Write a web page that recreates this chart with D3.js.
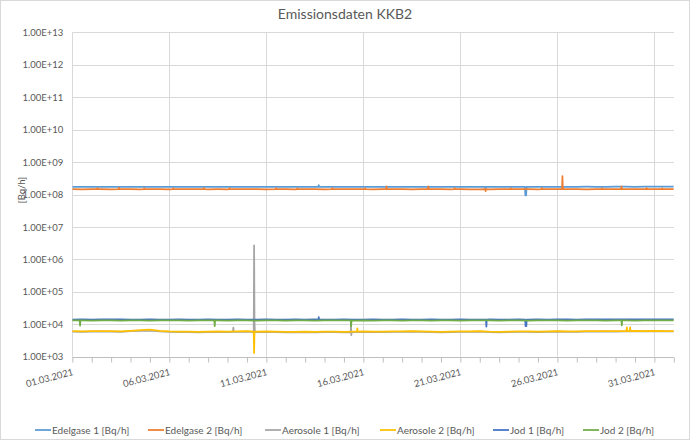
<!DOCTYPE html>
<html>
<head>
<meta charset="utf-8">
<script src="https://cdn.jsdelivr.net/npm/d3@7/dist/d3.min.js"></script>
<style>
  html, body { margin: 0; padding: 0; background: #fff; }
  svg { display: block; font-family: Lato, "Open Sans", sans-serif; }
</style>
</head>
<body>
<svg id="chart" width="690" height="440"></svg>
<script>
// ---------------- DATA ----------------
const title = "Emissionsdaten KKB2";
const yAxisTitle = "[Bq/h]";
const seriesNames = ["Edelgase 1 [Bq/h]", "Edelgase 2 [Bq/h]", "Aerosole 1 [Bq/h]", "Aerosole 2 [Bq/h]", "Jod 1 [Bq/h]", "Jod 2 [Bq/h]"];
const seriesColors = ["#5B9BD5", "#ED7D31", "#A5A5A5", "#FFC000", "#4472C4", "#70AD47"];
const xTickLabels = ["01.03.2021", "06.03.2021", "11.03.2021", "16.03.2021", "21.03.2021", "26.03.2021", "31.03.2021"];
const yTickValues = [1e3, 1e4, 1e5, 1e6, 1e7, 1e8, 1e9, 1e10, 1e11, 1e12, 1e13];

// base readings every 12 hours from 01.03.2021 00:00 (day 0) to 01.04.2021 00:00 (day 31)
const edelgase1 = [
  1.72e8,1.73e8,1.72e8,1.71e8,1.72e8,1.73e8,1.72e8,1.72e8,1.71e8,1.72e8,
  1.73e8,1.72e8,1.72e8,1.71e8,1.72e8,1.72e8,1.73e8,1.72e8,1.71e8,1.72e8,
  1.72e8,1.73e8,1.72e8,1.72e8,1.71e8,1.72e8,1.73e8,1.72e8,1.72e8,1.71e8,
  1.72e8,1.72e8,1.73e8,1.72e8,1.71e8,1.72e8,1.72e8,1.73e8,1.72e8,1.72e8,
  1.71e8,1.72e8,1.72e8,1.73e8,1.72e8,1.71e8,1.72e8,1.72e8,1.73e8,1.72e8,
  1.72e8,1.73e8,1.73e8,1.74e8,1.73e8,1.73e8,1.74e8,1.74e8,1.73e8,1.74e8,
  1.75e8,1.74e8,1.75e8];
const edelgase2 = [
  1.46e8,1.45e8,1.46e8,1.47e8,1.45e8,1.46e8,1.46e8,1.45e8,1.47e8,1.46e8,
  1.45e8,1.46e8,1.46e8,1.47e8,1.45e8,1.46e8,1.45e8,1.46e8,1.47e8,1.46e8,
  1.45e8,1.46e8,1.46e8,1.45e8,1.47e8,1.46e8,1.45e8,1.46e8,1.46e8,1.47e8,
  1.46e8,1.45e8,1.46e8,1.47e8,1.46e8,1.45e8,1.46e8,1.46e8,1.47e8,1.45e8,
  1.46e8,1.45e8,1.44e8,1.45e8,1.46e8,1.46e8,1.47e8,1.46e8,1.45e8,1.46e8,
  1.47e8,1.46e8,1.46e8,1.45e8,1.46e8,1.47e8,1.46e8,1.46e8,1.47e8,1.46e8,
  1.47e8,1.46e8,1.47e8];
const aerosole1 = [
  5.9e3,5.8e3,5.9e3,6.0e3,5.9e3,5.8e3,6.1e3,6.3e3,6.4e3,6.0e3,
  5.8e3,5.7e3,5.7e3,5.6e3,5.7e3,5.8e3,5.7e3,5.8e3,5.9e3,5.7e3,
  5.8e3,5.7e3,5.6e3,5.6e3,5.7e3,5.6e3,5.7e3,5.7e3,5.6e3,5.7e3,
  5.8e3,5.7e3,5.7e3,5.8e3,5.8e3,5.9e3,5.8e3,5.7e3,5.6e3,5.7e3,
  5.8e3,5.8e3,5.9e3,5.7e3,5.6e3,5.7e3,5.8e3,5.8e3,5.7e3,5.8e3,
  5.9e3,5.8e3,5.8e3,5.9e3,5.9e3,6.0e3,5.9e3,6.0e3,6.1e3,6.0e3,
  6.1e3,6.0e3,6.0e3];
const aerosole2 = [
  6.1e3,6.0e3,6.1e3,6.2e3,6.1e3,6.0e3,6.3e3,6.6e3,6.8e3,6.3e3,
  6.0e3,5.9e3,5.9e3,5.8e3,5.9e3,6.0e3,5.9e3,6.0e3,6.1e3,5.9e3,
  6.0e3,5.9e3,5.8e3,5.8e3,5.9e3,5.8e3,5.9e3,5.9e3,5.8e3,5.9e3,
  6.0e3,5.9e3,5.9e3,6.0e3,6.0e3,6.1e3,6.0e3,5.9e3,5.8e3,5.9e3,
  6.0e3,6.0e3,6.1e3,5.9e3,5.8e3,5.9e3,6.0e3,6.0e3,5.9e3,6.0e3,
  6.1e3,6.0e3,6.0e3,6.1e3,6.1e3,6.2e3,6.1e3,6.2e3,6.3e3,6.2e3,
  6.3e3,6.2e3,6.2e3];
const jod1 = [
  1.40e4,1.41e4,1.40e4,1.41e4,1.42e4,1.41e4,1.40e4,1.40e4,1.41e4,1.40e4,
  1.40e4,1.41e4,1.40e4,1.40e4,1.41e4,1.40e4,1.40e4,1.41e4,1.40e4,1.40e4,
  1.41e4,1.40e4,1.40e4,1.41e4,1.40e4,1.41e4,1.40e4,1.40e4,1.41e4,1.40e4,
  1.40e4,1.41e4,1.40e4,1.40e4,1.41e4,1.40e4,1.40e4,1.41e4,1.40e4,1.40e4,
  1.41e4,1.40e4,1.40e4,1.41e4,1.40e4,1.40e4,1.41e4,1.40e4,1.41e4,1.40e4,
  1.41e4,1.41e4,1.40e4,1.41e4,1.42e4,1.41e4,1.41e4,1.42e4,1.41e4,1.42e4,
  1.42e4,1.41e4,1.42e4];
const jod2 = [
  1.31e4,1.31e4,1.30e4,1.31e4,1.31e4,1.30e4,1.31e4,1.31e4,1.30e4,1.31e4,
  1.31e4,1.31e4,1.30e4,1.31e4,1.31e4,1.31e4,1.30e4,1.31e4,1.31e4,1.30e4,
  1.31e4,1.31e4,1.30e4,1.31e4,1.31e4,1.30e4,1.31e4,1.31e4,1.31e4,1.30e4,
  1.31e4,1.30e4,1.31e4,1.31e4,1.30e4,1.31e4,1.31e4,1.30e4,1.31e4,1.31e4,
  1.30e4,1.31e4,1.31e4,1.31e4,1.30e4,1.31e4,1.31e4,1.30e4,1.31e4,1.31e4,
  1.31e4,1.30e4,1.31e4,1.31e4,1.31e4,1.30e4,1.31e4,1.31e4,1.30e4,1.31e4,
  1.31e4,1.31e4,1.31e4];

// short-lived peaks / dips: [day offset, value]
const edelgase1Events = [[12.68,1.72e8],[12.70,1.95e8],[12.72,1.72e8],
  [21.28,1.72e8],[21.30,1.58e8],[21.32,1.72e8],
  [23.33,1.72e8],[23.35,0.95e8],[23.39,0.95e8],[23.41,1.72e8]];
const edelgase2Events = [[1.28,1.46e8],[1.30,1.58e8],[1.32,1.46e8],
  [2.38,1.46e8],[2.40,1.62e8],[2.42,1.46e8],
  [3.68,1.46e8],[3.70,1.57e8],[3.72,1.46e8],
  [5.18,1.46e8],[5.20,1.56e8],[5.22,1.46e8],
  [6.78,1.46e8],[6.80,1.58e8],[6.82,1.46e8],
  [8.08,1.46e8],[8.10,1.57e8],[8.12,1.46e8],
  [10.48,1.46e8],[10.50,1.58e8],[10.52,1.46e8],
  [11.58,1.46e8],[11.60,1.57e8],[11.62,1.46e8],
  [13.38,1.46e8],[13.40,1.58e8],[13.42,1.46e8],
  [15.08,1.46e8],[15.10,1.56e8],[15.12,1.46e8],
  [16.18,1.46e8],[16.20,1.80e8],[16.22,1.46e8],
  [18.33,1.46e8],[18.35,1.80e8],[18.37,1.46e8],
  [19.68,1.46e8],[19.70,1.58e8],[19.72,1.46e8],
  [21.28,1.46e8],[21.30,1.28e8],[21.32,1.46e8],
  [22.58,1.46e8],[22.60,1.57e8],[22.62,1.46e8],
  [24.18,1.46e8],[24.20,1.58e8],[24.22,1.46e8],
  [25.24,1.46e8],[25.26,3.70e8],[25.28,1.46e8],
  [27.28,1.46e8],[27.30,1.57e8],[27.32,1.46e8],
  [28.28,1.46e8],[28.30,1.78e8],[28.32,1.46e8],
  [29.58,1.46e8],[29.60,1.58e8],[29.62,1.46e8],
  [30.38,1.46e8],[30.40,1.57e8],[30.42,1.46e8]];
const aerosole1Events = [[8.28,5.8e3],[8.30,7.9e3],[8.32,5.8e3],
  [9.35,5.7e3],[9.37,2.7e6],[9.39,1.2e4],[9.41,5.7e3],
  [14.35,5.7e3],[14.36,1.1e4],[14.38,4.6e3],[14.40,5.7e3]];
const aerosole2Events = [[9.35,5.9e3],[9.37,1.3e3],[9.39,5.9e3],
  [14.67,5.9e3],[14.69,7.5e3],[14.71,5.9e3],
  [28.56,6.2e3],[28.58,8.0e3],[28.60,6.2e3],
  [28.73,6.2e3],[28.75,8.0e3],[28.77,6.2e3]];
const jod1Events = [[12.68,1.40e4],[12.70,1.65e4],[12.72,1.40e4],
  [21.32,1.40e4],[21.34,8.4e3],[21.36,1.40e4],
  [23.34,1.40e4],[23.36,8.7e3],[23.40,8.7e3],[23.42,1.40e4]];
const jod2Events = [[0.38,1.31e4],[0.40,9.0e3],[0.42,1.31e4],
  [7.32,1.31e4],[7.34,8.8e3],[7.36,1.31e4],
  [14.35,1.31e4],[14.37,8.6e3],[14.39,1.31e4],
  [28.30,1.31e4],[28.32,9.2e3],[28.34,1.31e4]];

const baseSeries = [edelgase1, edelgase2, aerosole1, aerosole2, jod1, jod2];
const eventSeries = [edelgase1Events, edelgase2Events, aerosole1Events, aerosole2Events, jod1Events, jod2Events];

// ---------------- CHART ----------------
const svg = d3.select("#chart");
const W = 690, H = 440;
const plot = { left: 72.3, right: 673.8, top: 32.4, bottom: 356.7 };
const start = Date.UTC(2021, 2, 1);
const DAY = 864e5;

const x = d3.scaleUtc().domain([new Date(start), new Date(start + 31 * DAY)]).range([plot.left, plot.right]);
const y = d3.scaleLog().domain([1e3, 1e13]).range([plot.bottom, plot.top]);

svg.append("rect").attr("x", 0.5).attr("y", 0.5).attr("width", W - 1).attr("height", H - 1)
  .attr("fill", "#fff").attr("stroke", "#d9d9d9");

// horizontal gridlines
svg.append("g").selectAll("line").data(yTickValues.slice(1)).join("line")
  .attr("x1", plot.left).attr("x2", plot.right)
  .attr("y1", d => Math.round(y(d)) + 0.5).attr("y2", d => Math.round(y(d)) + 0.5)
  .attr("stroke", "#d9d9d9").attr("stroke-width", 1);

// vertical gridlines every 5 days
const majorDates = xTickLabels.map((_, i) => new Date(start + i * 5 * DAY));
svg.append("g").selectAll("line").data(majorDates).join("line")
  .attr("x1", d => Math.round(x(d)) + 0.5).attr("x2", d => Math.round(x(d)) + 0.5)
  .attr("y1", plot.top).attr("y2", plot.bottom)
  .attr("stroke", "#d9d9d9").attr("stroke-width", 1);

// x axis with daily minor ticks
const xAxis = d3.axisBottom(x).ticks(d3.utcDay.every(1)).tickSize(5).tickFormat("");
const gx = svg.append("g").attr("transform", `translate(0,${Math.round(y(1e3)) + 0.5})`).call(xAxis);
gx.select(".domain").attr("stroke", "#bfbfbf").attr("d", `M${plot.left},0H${plot.right}`);
gx.selectAll(".tick line").attr("stroke", "#bfbfbf");

svg.append("g").selectAll("text").data(majorDates).join("text")
  .attr("transform", (d) => `translate(${x(d) + 1.5},${plot.bottom + 18}) rotate(-15)`)
  .attr("text-anchor", "end")
  .attr("font-size", 9.5).attr("fill", "#595959")
  .text((d, i) => xTickLabels[i]);

// y axis labels
const yAxis = d3.axisLeft(y).tickValues(yTickValues).tickSize(0).tickPadding(9)
  .tickFormat(d => d3.format(".2e")(d).toUpperCase().replace(/E\+?(\d)$/, "E+0$1").replace(/E\+(\d\d)$/, "E+$1"));
const gy = svg.append("g").attr("transform", `translate(${plot.left},0)`).call(yAxis);
gy.select(".domain").remove();
gy.selectAll("text").attr("font-size", 9.5).attr("fill", "#595959").attr("font-family", "Lato, 'Open Sans', sans-serif");

// axis title
svg.append("text").attr("transform", `translate(25,190) rotate(-90)`)
  .attr("text-anchor", "middle").attr("font-size", 9.5).attr("fill", "#595959").text(yAxisTitle);

// title
svg.append("text").attr("x", 345).attr("y", 19).attr("text-anchor", "middle")
  .attr("font-size", 14).attr("fill", "#595959").text(title);

// series
const line = d3.line().x(d => x(d.t)).y(d => y(d.v));
svg.append("clipPath").attr("id", "clip").append("rect")
  .attr("x", plot.left).attr("y", plot.top).attr("width", plot.right - plot.left).attr("height", plot.bottom - plot.top);
const gLines = svg.append("g").attr("clip-path", "url(#clip)");
baseSeries.forEach((vals, si) => {
  const pts = vals.map((v, i) => ({ day: i * 0.5, v }))
    .concat(eventSeries[si].map(([day, v]) => ({ day, v })))
    .sort((a, b) => a.day - b.day)
    .map(p => ({ t: new Date(start + p.day * DAY), v: p.v }));
  gLines.append("path").datum(pts)
    .attr("d", line).attr("fill", "none")
    .attr("stroke", seriesColors[si]).attr("stroke-width", 1.75)
    .attr("stroke-linejoin", "round");
});

// legend
const legendX = [35, 148, 265, 380, 493, 583];
const lg = svg.append("g").selectAll("g").data(seriesNames).join("g")
  .attr("transform", (d, i) => `translate(${legendX[i]},430)`);
lg.append("line").attr("x1", 0).attr("x2", 16).attr("y1", 0).attr("y2", 0)
  .attr("stroke", (d, i) => seriesColors[i]).attr("stroke-width", 1.75);
lg.append("text").attr("x", 17).attr("y", 0).attr("dy", "0.35em")
  .attr("font-size", 10).attr("fill", "#595959").text(d => d);
</script>
</body>
</html>
